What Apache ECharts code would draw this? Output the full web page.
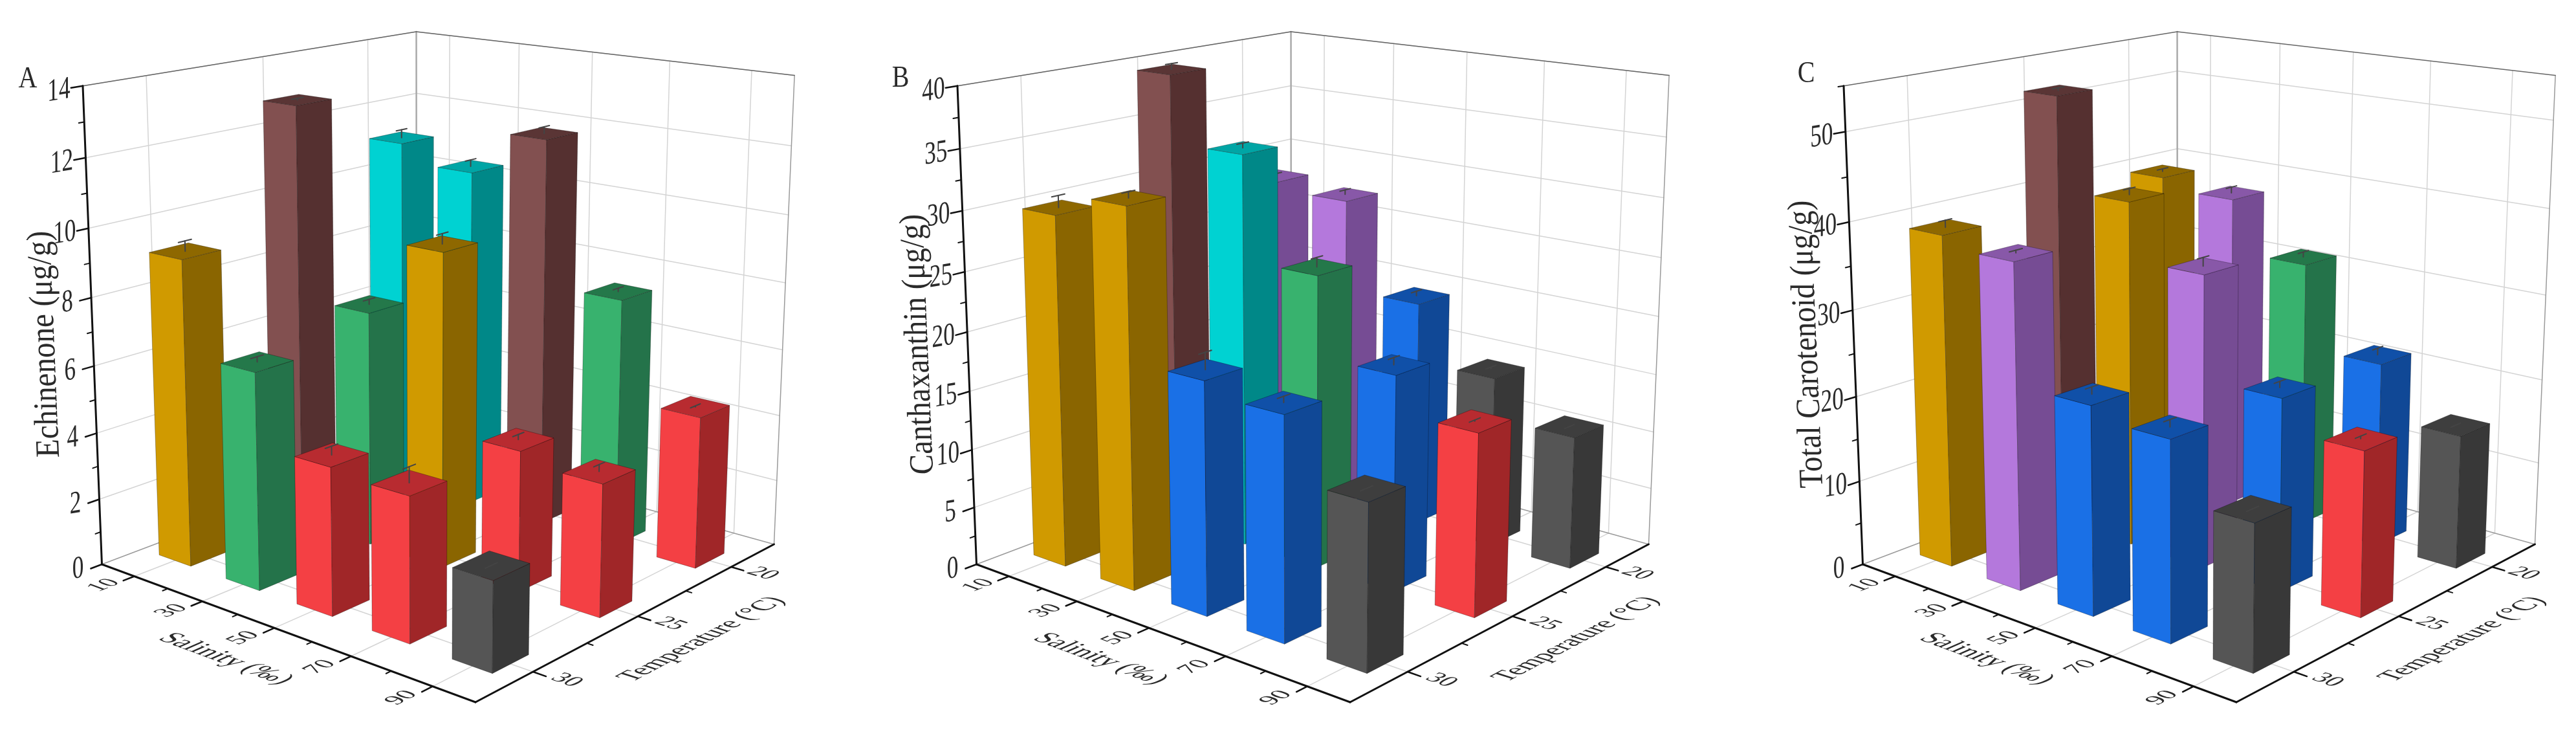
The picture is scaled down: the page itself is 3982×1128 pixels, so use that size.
<!DOCTYPE html>
<html>
<head>
<meta charset="utf-8">
<script src="https://cdn.jsdelivr.net/npm/echarts@6/dist/echarts.min.js"></script>
<style>
  html, body { margin: 0; background: #fff; }
  #chart { width: 3982px; height: 1128px; }
</style>
</head>
<body>
<div id="chart"></div>
<script>
const salinity = [10, 30, 50, 70, 90]
const salinityMinor = [20, 40, 60, 80]
const temperature = [20, 25, 30]
const temperatureMinor = [22.5, 27.5]

// rows: temperature 20, 25, 30 / columns: salinity 10..90
const echinenone = [
  [11.05, 10.5, 11.85, 7.5, 4.55],
  [12.85, 7.1, 9.35, 4.15, 3.85],
  [9.13, 6.4, 4.3, 4.15, 2.55]
]
const echinenoneErr = [
  [0.25, 0.2, 0.2, 0.1, 0.03],
  [0.05, 0.15, 0.3, 0.15, 0.2],
  [0.3, 0.15, 0.25, 0.45, 0]
]
const echinenoneGroup = [
  ['cyan', 'cyan', 'brown', 'green', 'red'],
  ['brown', 'green', 'gold', 'red', 'red'],
  ['gold', 'green', 'red', 'red', 'gray']
]

const canthaxanthin = [
  [28.1, 27.5, 19.7, 14.7, 11.3],
  [39.3, 33.6, 24.8, 18.1, 15.1],
  [29.7, 31.6, 19.2, 18.2, 13.3]
]
const canthaxanthinErr = [
  [0.2, 0.4, 0.4, 0.15, 0],
  [0.5, 0.4, 0.8, 0.6, 0.1],
  [1.0, 0.5, 1.4, 0.5, 0]
]
const canthaxanthinGroup = [
  ['purple', 'purple', 'blue', 'gray', 'gray'],
  ['brown', 'cyan', 'green', 'blue', 'red'],
  ['gold', 'gold', 'blue', 'blue', 'gray']
]

const carotenoid = [
  [39.2, 38.0, 31.8, 21.9, 15.7],
  [51.6, 40.8, 34.2, 22.3, 18.8],
  [38.6, 37.4, 23.7, 22.4, 16.1]
]
const carotenoidErr = [
  [0.3, 0.7, 0.6, 0.8, 0],
  [0.3, 0.7, 1.0, 0.7, 0.3],
  [0.8, 0.3, 0.8, 0.8, 0]
]
const carotenoidGroup = [
  ['gold', 'purple', 'green', 'blue', 'gray'],
  ['brown', 'gold', 'purple', 'blue', 'red'],
  ['gold', 'purple', 'blue', 'blue', 'gray']
]

const yTicksA = [0, 2, 4, 6, 8, 10, 12, 14]
const yMinorA = [1, 3, 5, 7, 9, 11, 13]
const yTicksB = [0, 5, 10, 15, 20, 25, 30, 35, 40]
const yMinorB = [2.5, 7.5, 12.5, 17.5, 22.5, 27.5, 32.5, 37.5]
const yTicksC = [0, 10, 20, 30, 40, 50]
const yMinorC = [5, 15, 25, 35, 45, 55]

const colors = {
  gold: ['#D09A00', '#8A6500', '#8E6800'],
  green: ['#38B26E', '#24734A', '#24784A'],
  red: ['#F44044', '#A02628', '#B82B30'],
  gray: ['#555555', '#383838', '#3E3E3E'],
  brown: ['#825050', '#553030', '#5A3535'],
  cyan: ['#00D2D2', '#008888', '#00A5A5'],
  blue: ['#1A70E6', '#104896', '#1050A8'],
  purple: ['#B478DC', '#764C94', '#8858A8']
}
const groupNames = Object.keys(colors)

const FONT = '"Liberation Serif", "Times New Roman", serif'
const BAR_HALF_S = 0.048
const BAR_HALF_U = 0.054

const panels = [
  { letter: 'A', letterPos: [43, 123], title: 'Echinenone (μg/g)', titleX: 70, max: 14, ticks: yTicksA, minor: yMinorA, values: echinenone, errs: echinenoneErr, groups: echinenoneGroup, dx: 0 },
  { letter: 'B', letterPos: [1392, 122], title: 'Canthaxanthin (μg/g)', titleX: 1420, max: 40, ticks: yTicksB, minor: yMinorB, values: canthaxanthin, errs: canthaxanthinErr, groups: canthaxanthinGroup, dx: 1352 },
  { letter: 'C', letterPos: [2792, 115], title: 'Total Carotenoid (μg/g)', titleX: 2794, max: 55, ticks: yTicksC, minor: yMinorC, values: carotenoid, errs: carotenoidErr, groups: carotenoidGroup, dx: 2722 }
]

// 箱体四个地面角点和垂直消失点（面板A的屏幕坐标）
const cornerL = [157.5, 872]
const cornerF = [735, 1085]
const cornerR = [1196.5, 841]
const cornerB = [644, 688]
const topLeftY = 132.7
const vanish = [653, 13283]

// 单位正方形到四边形的单应
const makeHomography = () => {
  const [x0, y0] = cornerL, [x1, y1] = cornerF, [x2, y2] = cornerR, [x3, y3] = cornerB
  const dx1 = x1 - x2, dx2 = x3 - x2, sx = x0 - x1 + x2 - x3
  const dy1 = y1 - y2, dy2 = y3 - y2, sy = y0 - y1 + y2 - y3
  const det = dx1 * dy2 - dx2 * dy1
  const g = (sx * dy2 - dx2 * sy) / det
  const h = (dx1 * sy - sx * dy1) / det
  return {
    a: x1 - x0 + g * x1, b: x3 - x0 + h * x3, c: x0,
    d: y1 - y0 + g * y1, e: y3 - y0 + h * y3, f: y0,
    g, h
  }
}
const H = makeHomography()
const lambda = (topLeftY - cornerL[1]) / (vanish[1] - topLeftY)

// s: 沿盐度轴 0..1, u: 沿温度轴 0..1, z: 高度 0..1
const project = (dx, s, u, z) => {
  const w = H.g * s + H.h * u + 1
  const X = H.a * s + H.b * u + H.c
  const Y = H.d * s + H.e * u + H.f
  const q = w + z * lambda
  return [(X + z * lambda * vanish[0]) / q + dx, (Y + z * lambda * vanish[1]) / q]
}

const sOf = (v) => echarts.number.linearMap(v, [0, 100], [0, 1])
const uOf = (t) => echarts.number.linearMap(t, [32.5, 17.5], [0, 1])

const line = (p, q, stroke, lineWidth) => ({
  type: 'line',
  shape: { x1: p[0], y1: p[1], x2: q[0], y2: q[1] },
  style: { stroke, lineWidth, lineCap: 'round' }
})

const poly = (points, fill) => ({
  type: 'polygon',
  shape: { points },
  style: { fill, stroke: 'rgba(0,0,0,0.28)', lineWidth: 1 }
})

// 把文字贴到平面上：用两个基向量组成的矩阵做 SVD 分解
const planeText = (text, pos, e1, e2, fontSize) => {
  const [a, b] = e1, [c, d] = e2
  const E = (a + d) / 2, F = (a - d) / 2, G = (b + c) / 2, K = (b - c) / 2
  const Q = Math.hypot(E, K), R = Math.hypot(F, G)
  const a1 = Math.atan2(G, F), a2 = Math.atan2(K, E)
  const theta = (a2 - a1) / 2, phi = (a2 + a1) / 2
  return {
    type: 'group',
    x: pos[0], y: pos[1],
    rotation: -phi, scaleX: Q + R, scaleY: Q - R,
    children: [{
      type: 'text',
      rotation: -theta,
      style: { text, font: `${fontSize}px ${FONT}`, fill: '#2a2a2a', align: 'center', verticalAlign: 'middle' }
    }]
  }
}

const unit = (p, q, k) => {
  const dx = q[0] - p[0], dy = q[1] - p[1], l = Math.hypot(dx, dy)
  return [dx / l * k, dy / l * k]
}

const buildFrame = (panel) => {
  const dx = panel.dx
  const P = (s, u, z) => project(dx, s, u, z)
  const zOf = (v) => echarts.number.linearMap(v, [0, panel.max], [0, 1])
  const out = []
  const gridColor = '#d4d4d4', edge = '#9a9a9a'
  // 网格线
  salinity.forEach((v) => {
    const s = sOf(v)
    out.push(line(P(s, 0, 0), P(s, 1, 0), gridColor, 1.5))
    out.push(line(P(s, 1, 0), P(s, 1, 1), gridColor, 1.5))
  })
  temperature.forEach((t) => {
    const u = uOf(t)
    out.push(line(P(0, u, 0), P(1, u, 0), gridColor, 1.5))
    out.push(line(P(0, u, 0), P(0, u, 1), gridColor, 1.5))
  })
  panel.ticks.forEach((v) => {
    if (v === 0) return
    const z = zOf(v)
    out.push(line(P(0, 0, z), P(0, 1, z), gridColor, 1.5))
    out.push(line(P(0, 1, z), P(1, 1, z), gridColor, 1.5))
  })
  // 外框
  out.push(line(P(0, 0, 0), P(0, 1, 0), edge, 1.5))
  out.push(line(P(0, 1, 0), P(1, 1, 0), edge, 1.5))
  out.push(line(P(0, 1, 0), P(0, 1, 1), '#aaa', 2.5))
  out.push(line(P(1, 1, 0), P(1, 1, 1), edge, 1.5))
  out.push(line(P(0, 0, 1), P(0, 1, 1), '#666', 1.5))
  out.push(line(P(0, 1, 1), P(1, 1, 1), '#666', 1.5))
  // 坐标轴
  out.push(line(P(0, 0, 0), P(1, 0, 0), '#111', 3))
  out.push(line(P(1, 0, 0), P(1, 1, 0), '#111', 3))
  out.push(line(P(0, 0, 0), P(0, 0, 1), '#111', 3))
  panel.ticks.forEach((v) => {
    const z = zOf(v)
    out.push(line(P(0, 0, z), P(0, -0.03, z), '#111', 2.5))
    const p = P(0, 0, z)
    out.push(planeText(String(v), [p[0] - 37, p[1] + 8], [0.72, -0.12], [0, 1], 49))
  })
  panel.minor.forEach((v) => {
    const z = zOf(v)
    out.push(line(P(0, 0, z), P(0, -0.014, z), '#111', 2))
  })
  salinity.forEach((v) => {
    const s = sOf(v)
    out.push(line(P(s, 0, 0), P(s, -0.03, 0), '#111', 2.5))
    const pos = P(s - 0.012, -0.072, 0)
    out.push(planeText(String(v), pos, unit(P(s, 0, 0), P(s, 1, 0), 1), unit(P(0, 0, 0), P(1, 0, 0), 0.95), 38))
  })
  salinityMinor.forEach((v) => {
    const s = sOf(v)
    out.push(line(P(s, 0, 0), P(s, -0.014, 0), '#111', 2))
  })
  temperature.forEach((t) => {
    const u = uOf(t)
    out.push(line(P(1, u, 0), P(1.03, u, 0), '#111', 2.5))
    const pos = P(1.068, u + 0.012, 0)
    out.push(planeText(String(t), pos, unit(P(0, u, 0), P(1, u, 0), 1), unit(P(1, 1, 0), P(1, 0, 0), 0.95), 38))
  })
  temperatureMinor.forEach((t) => {
    const u = uOf(t)
    out.push(line(P(1, u, 0), P(1.014, u, 0), '#111', 2))
  })
  // 轴标题
  out.push(planeText('Salinity (‰)', P(0.53, -0.16, 0),
    unit(P(0, 0, 0), P(1, 0, 0), 0.92), unit(P(0.5, 1, 0), P(0.5, 0, 0), 1), 44))
  out.push(planeText('Temperature (°C)', P(1.155, 0.49, 0),
    unit(P(1, 0, 0), P(1, 1, 0), 0.87), unit(P(0, 0.5, 0), P(1, 0.5, 0), 1), 44))
  out.push(planeText(panel.title, [panel.titleX, 532], [-0.04, -0.94], [1.05, 0], 50))
  out.push(planeText(panel.letter, panel.letterPos, [0.87, 0], [0, 1], 46))
  return out
}

const renderBar = (panel) => (params, api) => {
  const cs = params.coordSys
  const [px, py] = api.coord([api.value(0), api.value(2)])
  const [, errY] = api.coord([api.value(0), api.value(2) + api.value(3)])
  const sc = (px - cs.x) / cs.width
  const zn = (cs.y + cs.height - py) / cs.height
  const zErr = (cs.y + cs.height - errY) / cs.height
  const uc = uOf(api.value(1))
  const col = colors[groupNames[api.value(4)]]
  const dx = panel.dx
  const P = (s, u, z) => project(dx, s, u, z)
  const s0 = sc - BAR_HALF_S, s1 = sc + BAR_HALF_S
  const u0 = uc - BAR_HALF_U, u1 = uc + BAR_HALF_U
  return {
    type: 'group',
    children: [
      poly([P(s0, u0, 0), P(s1, u0, 0), P(s1, u0, zn), P(s0, u0, zn)], col[0]),
      poly([P(s1, u0, 0), P(s1, u1, 0), P(s1, u1, zn), P(s1, u0, zn)], col[1]),
      poly([P(s0, u0, zn), P(s1, u0, zn), P(s1, u1, zn), P(s0, u1, zn)], col[2]),
      line(P(sc, uc, zn), P(sc, uc, zErr), '#444', 2),
      line(P(sc, uc - 0.018, zErr), P(sc, uc + 0.018, zErr), '#444', 2)
    ]
  }
}

const chart = echarts.init(document.getElementById('chart'))

const grids = [], xAxes = [], yAxes = [], series = []
panels.forEach((panel, i) => {
  grids.push({ left: 20 + panel.dx, top: 20, width: 1240, height: 1080 })
  xAxes.push({ type: 'value', gridIndex: i, min: 0, max: 100, show: false })
  yAxes.push({ type: 'value', gridIndex: i, min: 0, max: panel.max, show: false })
  series.push({
    type: 'custom',
    coordinateSystem: 'none',
    silent: true,
    data: [0],
    renderItem: () => ({ type: 'group', children: buildFrame(panel) })
  })
  // 从后排到前排、从低盐到高盐，保证遮挡关系
  const rows = []
  temperature.forEach((t, r) => {
    salinity.forEach((sal, c) => {
      rows.push([sal, t, panel.values[r][c], panel.errs[r][c], groupNames.indexOf(panel.groups[r][c])])
    })
  })
  series.push({
    type: 'custom',
    xAxisIndex: i,
    yAxisIndex: i,
    silent: true,
    encode: { x: 0, y: 2 },
    data: rows,
    renderItem: renderBar(panel)
  })
})

chart.setOption({
  animation: false,
  backgroundColor: '#fff',
  grid: grids,
  xAxis: xAxes,
  yAxis: yAxes,
  series
})
</script>
</body>
</html>
